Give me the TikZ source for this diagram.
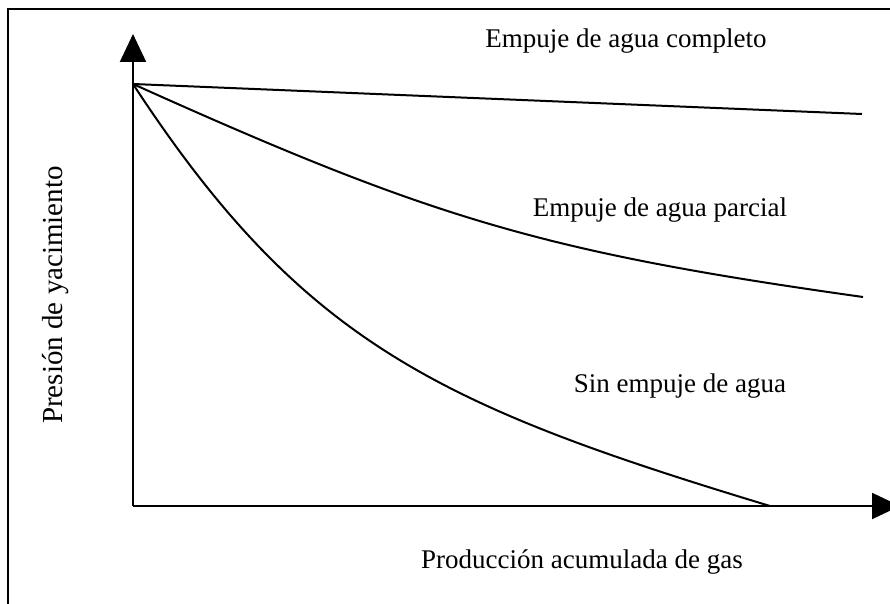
\documentclass[tikz,border=0pt]{standalone}
\usepackage{fontspec}
\setmainfont{Liberation Serif}
\usetikzlibrary{arrows.meta, positioning}

\begin{document}
\begin{tikzpicture}[x=0.5pt, y=-0.5pt, line width=1pt,
    eje/.style={-{Triangle[length=14pt,width=13pt]}},
    etiqueta/.style={anchor=base, inner sep=0pt, font=\fontsize{13.5}{16}\selectfont}]
  \useasboundingbox (0,0) rectangle (890,604);
  % marco
  \draw (8,604) -- (8,9) -- (890,9);
  % ejes
  \coordinate (origen) at (133,506);
  \coordinate (ytop) at (133,34);
  \coordinate (xend) at (900,506);
  \draw[eje] (origen) -- (ytop);
  \draw[eje] (origen) -- (xend);
  % curvas de presion
  \coordinate (p0) at (133,84);
  \coordinate (fincompleto) at (862,114);
  \coordinate (finparcial) at (863,297);
  \coordinate (finsin) at (770,506);
  \draw (p0) -- (fincompleto);
  \draw (p0) .. controls (433,219) and (543,252) .. (finparcial);
  \draw (p0) .. controls (303,344) and (440,406) .. (finsin);
  % textos
  \node[etiqueta] (completo) at (626,48) {Empuje de agua completo};
  \node[etiqueta] (parcial) at (660,217) {Empuje de agua parcial};
  \node[etiqueta] (sin) at (680,393) {Sin empuje de agua};
  \node[etiqueta] (xlabel) at (582,568) {Producción acumulada de gas};
  \node[etiqueta, rotate=90, font=\fontsize{14.5}{17}\selectfont] (ylabel) at (62,295) {Presión de yacimiento};
\end{tikzpicture}
\end{document}
